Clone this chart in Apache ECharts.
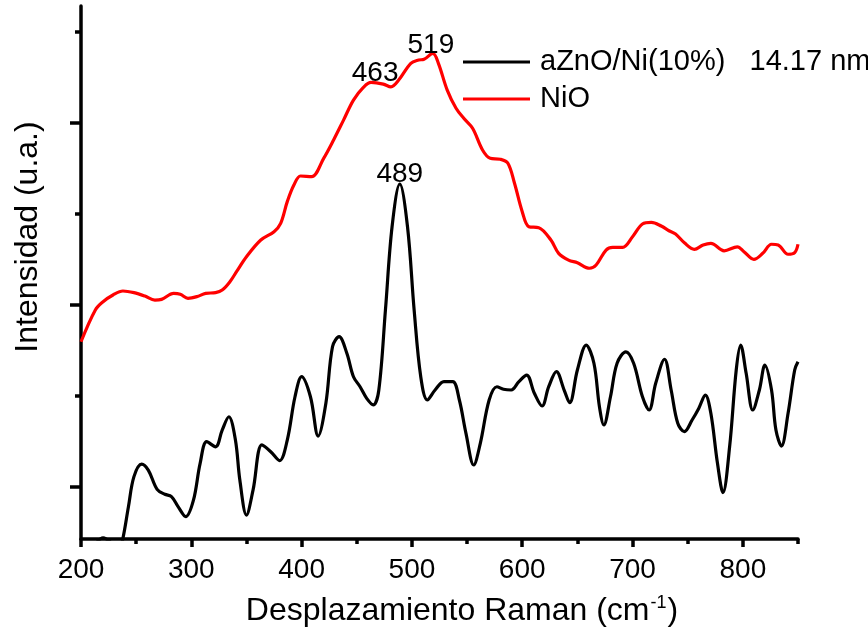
<!DOCTYPE html>
<html>
<head>
<meta charset="utf-8">
<script src="https://cdn.jsdelivr.net/npm/echarts@6/dist/echarts.min.js"></script>
<style>
  html, body { margin: 0; padding: 0; background: #fff; }
  #chart { width: 868px; height: 632px; }
</style>
</head>
<body>
<div id="chart"></div>
<script>
// Raman spectra, wavenumber (cm-1) vs. intensity (arbitrary units)
const znoX = [200, 210, 220, 228, 234, 238, 243, 248, 255, 261, 269, 276, 282, 288, 295, 302, 308, 314, 322, 328,
  334, 340, 344, 350, 356, 364, 372, 380, 387, 394, 400, 408, 415, 422, 428, 434, 441, 447, 453, 459,
  465, 470, 476, 482, 489, 496, 502, 508, 514, 521, 529, 537, 543, 549, 556, 562, 570, 577, 583, 590,
  597, 604, 611, 618, 624, 631, 638, 643, 650, 658, 665, 670, 674, 680, 686, 694, 701, 709, 715, 721,
  729, 735, 741, 747, 754, 760, 766, 771, 777, 782, 788, 794, 798, 803, 809, 815, 820, 826, 830, 835,
  841, 847, 850];
const znoY = [0.55, 0.66, 0.72, 0.69, 0.64, 0.718, 0.892, 1.057, 1.126, 1.093, 0.987, 0.960, 0.947, 0.892, 0.837, 0.929, 1.130, 1.249, 1.221, 1.313,
  1.386, 1.258, 1.038, 0.846, 0.984, 1.231, 1.194, 1.145, 1.258, 1.496, 1.606, 1.496, 1.280, 1.460, 1.771, 1.826, 1.735, 1.606, 1.551, 1.487,
  1.451, 1.533, 1.973, 2.430, 2.665, 2.430, 1.973, 1.606, 1.478, 1.533, 1.579, 1.579, 1.478, 1.295, 1.121, 1.240, 1.478, 1.551, 1.537, 1.533,
  1.579, 1.615, 1.515, 1.445, 1.551, 1.634, 1.533, 1.463, 1.643, 1.780, 1.680, 1.441, 1.341, 1.496, 1.680, 1.743, 1.680, 1.496, 1.423, 1.570,
  1.702, 1.533, 1.350, 1.304, 1.368, 1.432, 1.505, 1.405, 1.130, 0.969, 1.221, 1.643, 1.780, 1.625, 1.423, 1.533, 1.670, 1.533, 1.313, 1.225,
  1.405, 1.643, 1.688];

const nioX = [200, 213, 220, 229, 238, 248, 258, 267, 273, 284, 290, 297, 305, 313, 322, 328, 335, 341, 350, 363,
  375, 381, 387, 393, 399, 409, 420, 429, 438, 447, 456, 463, 474, 481, 488, 499, 506, 511, 519, 524,
  532, 540, 547, 555, 564, 571, 580, 587, 593, 600, 606, 615, 626, 633, 642, 650, 661, 667, 676, 682,
  691, 700, 709, 717, 726, 733, 739, 747, 756, 764, 771, 783, 795, 801, 810, 818, 826, 832, 841, 847,
  850];
const nioY = [1.798, 1.973, 2.018, 2.055, 2.077, 2.068, 2.049, 2.027, 2.031, 2.064, 2.059, 2.037, 2.046, 2.064, 2.068, 2.082, 2.128, 2.183, 2.265, 2.357,
  2.403, 2.449, 2.568, 2.659, 2.709, 2.705, 2.806, 2.907, 3.016, 3.126, 3.196, 3.223, 3.214, 3.199, 3.236, 3.328, 3.346, 3.350, 3.383, 3.328,
  3.181, 3.081, 3.026, 2.971, 2.852, 2.806, 2.801, 2.779, 2.669, 2.513, 2.430, 2.425, 2.357, 2.284, 2.247, 2.232, 2.202, 2.220, 2.302, 2.317,
  2.317, 2.375, 2.445, 2.454, 2.434, 2.408, 2.390, 2.342, 2.306, 2.330, 2.339, 2.298, 2.320, 2.293, 2.251, 2.284, 2.334, 2.330, 2.279, 2.288,
  2.334];

// Band positions that get a numeric tag above the curve
const znoPeaks = [489];
const nioPeaks = [463, 519];

const xMajorTicks = [200, 300, 400, 500, 600, 700, 800];
const xMinorTicks = [250, 350, 450, 550, 650, 750, 850];
const yMajorTicks = [1, 2, 3];
const yMinorTicks = [1.5, 2.5, 3.5];

const seriesNames = ['aZnO/Ni(10%)   14.17 nm', 'NiO'];

const FONT = "'Liberation Sans', Arial, Helvetica, sans-serif";
const X_MIN = 200, X_MAX = 850, Y_MIN = 0.7143, Y_MAX = 3.643;

function pairs(xs, ys) {
  return xs.map((x, i) => [x, ys[i]]);
}

// Peak tags: placed on the spectrum point at each listed wavenumber
function peakMarks(xs, ys, peaks, offsets) {
  return {
    symbol: 'circle',
    symbolSize: 0,
    silent: true,
    animation: false,
    data: peaks.map((p, k) => {
      const i = xs.indexOf(p);
      return {
        coord: [xs[i], ys[i]],
        value: xs[i],
        label: {
          show: true,
          position: 'top',
          distance: 1,
          offset: offsets[k] || [0, 0],
          formatter: String(xs[i]),
          color: '#000',
          fontSize: 28,
          fontFamily: FONT
        }
      };
    })
  };
}

const axisLineStyle = { color: '#000', width: 3.5 };

const option = {
  animation: false,
  backgroundColor: '#fff',
  grid: { left: 81, right: 70, top: 6, bottom: 93, containLabel: false, outerBoundsMode: 'none' },
  legend: {
    orient: 'vertical',
    left: 463,
    top: 46,
    padding: 0,
    itemWidth: 67,
    itemHeight: 3,
    itemGap: 5,
    icon: 'rect',
    textStyle: { color: '#000', fontSize: 29, fontFamily: FONT, lineHeight: 32, padding: [0, 0, 0, 5] },
    data: seriesNames
  },
  xAxis: [
    {
      type: 'value', min: X_MIN, max: X_MAX,
      axisLine: { show: true, lineStyle: axisLineStyle },
      axisTick: { show: true, inside: false, length: 8, customValues: xMajorTicks, lineStyle: axisLineStyle },
      axisLabel: { show: true, customValues: xMajorTicks, margin: 17, color: '#000', fontSize: 28, fontFamily: FONT },
      splitLine: { show: false }
    },
    {
      type: 'value', min: X_MIN, max: X_MAX, position: 'bottom',
      axisLine: { show: false },
      axisTick: { show: true, inside: false, length: 5, customValues: xMinorTicks, lineStyle: axisLineStyle },
      axisLabel: { show: false },
      splitLine: { show: false }
    }
  ],
  yAxis: [
    {
      type: 'value', min: Y_MIN, max: Y_MAX,
      axisLine: { show: true, lineStyle: axisLineStyle },
      axisTick: { show: true, inside: false, length: 11, customValues: yMajorTicks, lineStyle: axisLineStyle },
      axisLabel: { show: false },
      splitLine: { show: false }
    },
    {
      type: 'value', min: Y_MIN, max: Y_MAX, position: 'left',
      axisLine: { show: false },
      axisTick: { show: true, inside: false, length: 6, customValues: yMinorTicks, lineStyle: axisLineStyle },
      axisLabel: { show: false },
      splitLine: { show: false }
    }
  ],
  graphic: [
    {
      type: 'text',
      x: 28, y: 237,
      rotation: Math.PI / 2,
      style: {
        text: 'Intensidad (u.a.)',
        fill: '#000', fontSize: 32, fontFamily: FONT,
        align: 'center', verticalAlign: 'middle'
      }
    },
    {
      type: 'text',
      x: 462, y: 611,
      style: {
        text: '{a|Desplazamiento Raman (cm}{s|-1}{a|)}',
        align: 'center', verticalAlign: 'middle',
        rich: {
          a: { fill: '#000', fontSize: 32, fontFamily: FONT, lineHeight: 34 },
          s: { fill: '#000', fontSize: 18, fontFamily: FONT, lineHeight: 34, verticalAlign: 'top', padding: [0, 1, 18, 1] }
        }
      }
    }
  ],
  series: [
    {
      name: seriesNames[0],
      type: 'line',
      xAxisIndex: 0, yAxisIndex: 0,
      data: pairs(znoX, znoY),
      smooth: 0.35,
      showSymbol: false,
      symbol: 'none',
      clip: true,
      color: '#000',
      lineStyle: { color: '#000', width: 3.2 },
      markPoint: peakMarks(znoX, znoY, znoPeaks, [[0, 5]]),
      z: 3
    },
    {
      name: seriesNames[1],
      type: 'line',
      xAxisIndex: 0, yAxisIndex: 0,
      data: pairs(nioX, nioY),
      smooth: 0.35,
      showSymbol: false,
      symbol: 'none',
      clip: true,
      color: '#ff0000',
      lineStyle: { color: '#ff0000', width: 3.2 },
      markPoint: peakMarks(nioX, nioY, nioPeaks, [[4, 6], [-2, 7]]),
      z: 2
    }
  ]
};

const chart = echarts.init(document.getElementById('chart'), null, { renderer: 'canvas' });
chart.setOption(option);
</script>
</body>
</html>
